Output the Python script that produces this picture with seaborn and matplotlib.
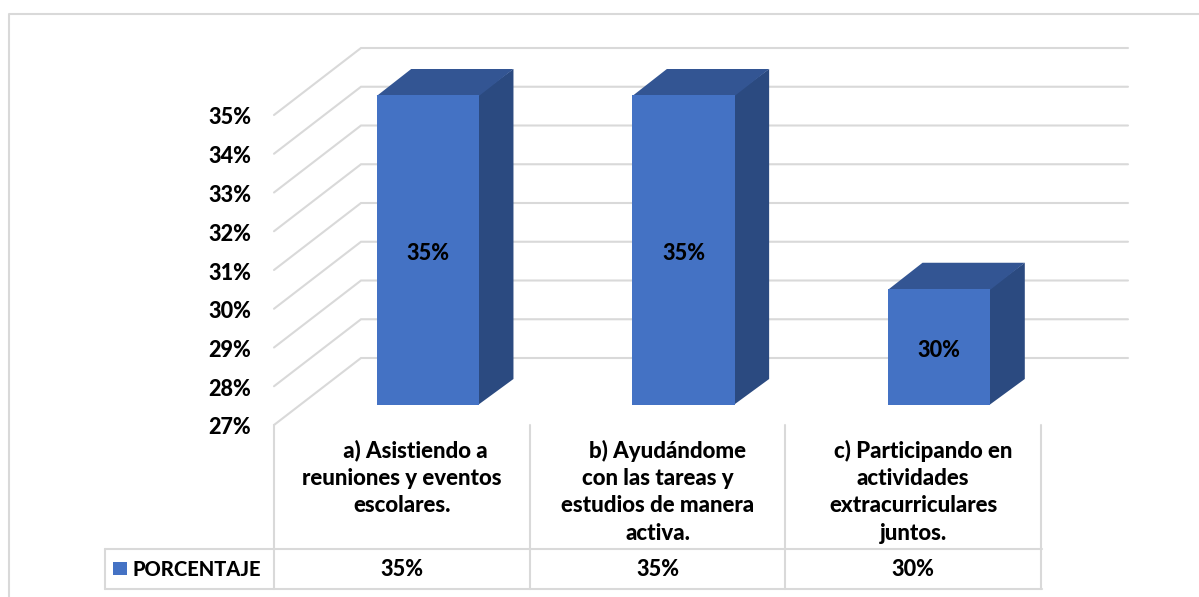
import matplotlib
matplotlib.use("Agg")
import matplotlib.pyplot as plt
from matplotlib.lines import Line2D
from matplotlib.patches import Polygon, Rectangle
from matplotlib.transforms import Affine2D, IdentityTransform
import pandas as pd
import seaborn as sns

categories = ["     a) Asistiendo a\nreuniones y eventos\nescolares.",
              "    b) Ayudándome\ncon las tareas y\nestudios de manera\nactiva.",
              "    c) Participando en\nactividades\nextracurriculares\njuntos."]
values = [35, 35, 30]
series_name = "PORCENTAJE"
y_ticks = [27, 28, 29, 30, 31, 32, 33, 34, 35]

W, H = 1199, 597
FRONT, SIDE, TOP = "#4472C4", "#2B4A80", "#335593"
GRID = "#D9D9D9"
FS = 15.6
WEIGHT = 900

sns.set_theme(style="white")
plt.rcParams["font.family"] = ["Lato", "DejaVu Sans"]
plt.rcParams["font.weight"] = WEIGHT

fig = plt.figure(figsize=(W / 100, H / 100), dpi=100)
fig.patch.set_facecolor("white")


def fx(p):
    return p / W


def fy(p):
    return 1 - p / H


ax = fig.add_axes([fx(300), fy(405), (1067 - 300) / W, (405 - 95) / H])
ax.patch.set_visible(False)
df = pd.DataFrame({"cat": categories, "val": values})
sns.barplot(data=df, x="cat", y="val", color=FRONT, saturation=1, width=0.4, ax=ax, zorder=3,
            linewidth=0, edgecolor="none")
ax.set_xlim(-0.5, 2.5)
ax.set_ylim(27, 35)
ax.set_xlabel("")
ax.set_ylabel("")
for s in ax.spines.values():
    s.set_visible(False)
ax.set_yticks(y_ticks)
ax.set_yticklabels([f"{v}%" for v in y_ticks], fontsize=FS, fontweight=WEIGHT, color="black")
ax.tick_params(axis="y", length=0, pad=49 * 0.72)
ax.tick_params(axis="x", length=0, pad=34.5 * 0.72, labelsize=16)
for t in ax.get_xticklabels():
    t.set_fontweight(WEIGHT)
    t.set_color("black")
    t.set_linespacing(1.38)
    t.set_verticalalignment("top")

# depth offsets in pixels relative to the bar plane
FRONT_OFF = (-26, -20)
BACK_OFF = (61, 47)
DEPTH = (34.5, 26)

for tick in ax.yaxis.get_major_ticks():
    tick.label1.set_transform(tick.label1.get_transform() + Affine2D().translate(0, -21))
for tick in ax.xaxis.get_major_ticks():
    tick.label1.set_transform(tick.label1.get_transform() + Affine2D().translate(-26, 0))

ident = IdentityTransform()
xl = ax.get_xlim()
for v in y_ticks:
    x0, y0 = ax.transData.transform((xl[0], v))
    x1, _ = ax.transData.transform((xl[1], v))
    ax.add_line(Line2D([x0 + FRONT_OFF[0], x0 + BACK_OFF[0], x1 + BACK_OFF[0]],
                       [y0 + FRONT_OFF[1], y0 + BACK_OFF[1], y0 + BACK_OFF[1]],
                       transform=ident, color=GRID, lw=1.5, zorder=1, clip_on=False,
                       solid_joinstyle="miter"))

for bar in ax.containers[0]:
    (l, b), (r, t) = ax.transData.transform([(bar.get_x(), 27),
                                             (bar.get_x() + bar.get_width(), bar.get_height())])
    dx, dy = DEPTH
    ax.add_patch(Polygon([(r - 1, b), (r + dx, b + dy), (r + dx, t + dy), (r - 1, t)], closed=True,
                         transform=ident, fc=SIDE, ec="none", zorder=2.5, clip_on=False))
    ax.add_patch(Polygon([(l, t - 1), (r, t - 1), (r + dx, t + dy), (l + dx, t + dy)], closed=True,
                         transform=ident, fc=TOP, ec="none", zorder=2.5, clip_on=False))

for ann in ax.bar_label(ax.containers[0], labels=[f"{v}%" for v in values], label_type="center",
                        fontsize=FS, fontweight=WEIGHT, color="black", zorder=5):
    ann.xyann = (0, -2.5)

# data table
TG = "#D9D9D9"
lines = [((274, 274), (425, 589)), ((529.5, 529.5), (425, 589)), ((785, 785), (425, 589)),
         ((1041, 1041), (425, 589)), ((105, 105), (549, 589)),
         ((105, 1042), (549, 549)), ((105, 1042), (589, 589))]
for xs, ys in lines:
    fig.add_artist(Line2D([fx(x) for x in xs], [fy(y) for y in ys], color=TG, lw=1.5))
for i, v in enumerate(values):
    x, _ = ax.transData.transform((i, 27))
    fig.text((x - 26) / W, fy(570), f"{v}%", ha="center", va="center", fontsize=FS,
             fontweight=WEIGHT, color="black")
fig.add_artist(Rectangle((fx(113), fy(575)), 14 / W, 13 / H, transform=fig.transFigure,
                         fc=FRONT, ec="none"))
fig.text(fx(133), fy(570), series_name, ha="left", va="center", fontsize=14.5,
         fontweight=WEIGHT, color="black")

# chart frame
fig.add_artist(Line2D([fx(8.5), fx(8.5), fx(1199)], [fy(597), fy(14), fy(14)],
                      color=GRID, lw=1.5))

fig.savefig("out.png", dpi=100, facecolor="white")
